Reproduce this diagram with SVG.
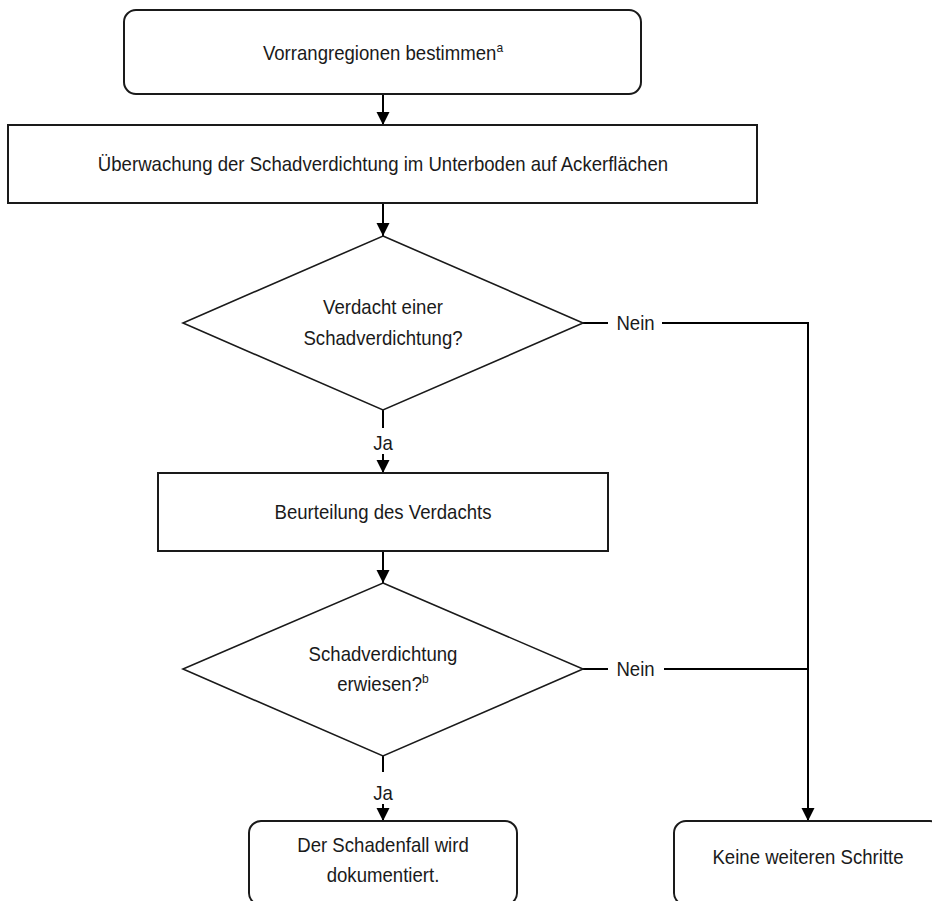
<svg xmlns="http://www.w3.org/2000/svg" width="932" height="901" viewBox="0 0 932 901">
<style>
.box{fill:#fff;stroke:#1a1a1a;stroke-width:2}
.dia{fill:#fff;stroke:#1a1a1a;stroke-width:1.6}
.con{fill:none;stroke:#000;stroke-width:2}
.arr{marker-end:url(#ah)}
text{font-family:"Liberation Sans",Arial,sans-serif;font-size:20px;fill:#1a1a1a;text-anchor:middle;transform-box:fill-box;transform-origin:center;transform:scaleX(0.93)}
.lbl{text-anchor:start}
.sup{font-size:13px}
</style>
<defs>
<marker id="ah" markerUnits="userSpaceOnUse" markerWidth="14" markerHeight="14" refX="13" refY="6.5" orient="auto">
<path d="M0,0 L13,6.5 L0,13 z" fill="#000"/>
</marker>
</defs>
<g id="connectors">
<line class="con arr" x1="383" y1="94" x2="383" y2="125"/>
<line class="con arr" x1="383" y1="203" x2="383" y2="236"/>
<line class="con" x1="383" y1="410" x2="383" y2="428"/>
<text x="383" y="450">Ja</text>
<line class="con arr" x1="383" y1="454" x2="383" y2="473"/>
<line class="con arr" x1="383" y1="551" x2="383" y2="583"/>
<line class="con" x1="383" y1="756" x2="383" y2="772"/>
<text x="383" y="800">Ja</text>
<line class="con arr" x1="383" y1="804" x2="383" y2="821"/>
<line class="con" x1="583" y1="323" x2="608" y2="323"/>
<text class="lbl" x="615" y="330">Nein</text>
<polyline class="con arr" points="662,323 808,323 808,821"/>
<line class="con" x1="583" y1="669" x2="608" y2="669"/>
<text class="lbl" x="615" y="676">Nein</text>
<line class="con" x1="664" y1="669" x2="808" y2="669"/>
</g>
<g id="n1">
<rect class="box" x="124" y="10" width="517" height="84" rx="12"/>
<text x="383" y="60">Vorrangregionen bestimmen<tspan class="sup" dy="-8">a</tspan></text>
</g>
<g id="n2">
<rect class="box" x="8" y="125" width="749" height="78"/>
<text x="383" y="171">Überwachung der Schadverdichtung im Unterboden auf Ackerflächen</text>
</g>
<g id="d1">
<polygon class="dia" points="383,236 583,323 383,410 183,323"/>
<text x="383" y="314">Verdacht einer</text>
<text x="383" y="345">Schadverdichtung?</text>
</g>
<g id="n3">
<rect class="box" x="158" y="473" width="450" height="78"/>
<text x="383" y="519">Beurteilung des Verdachts</text>
</g>
<g id="d2">
<polygon class="dia" points="383,583 583,669 383,756 183,669"/>
<text x="383" y="661">Schadverdichtung</text>
<text x="383" y="691">erwiesen?<tspan class="sup" dy="-8">b</tspan></text>
</g>
<g id="n4">
<rect class="box" x="249" y="821" width="268" height="84" rx="12"/>
<text x="383" y="852">Der Schadenfall wird</text>
<text x="383" y="882">dokumentiert.</text>
</g>
<g id="n5">
<rect class="box" x="674" y="821" width="268" height="84" rx="12"/>
<text x="808" y="864">Keine weiteren Schritte</text>
</g>
</svg>
